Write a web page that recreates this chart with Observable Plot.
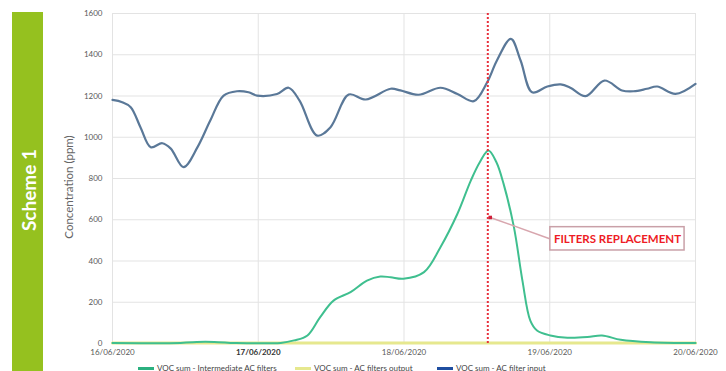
<!DOCTYPE html>
<html><head><meta charset="utf-8">
<script src="https://cdn.jsdelivr.net/npm/d3@7"></script>
<script src="https://cdn.jsdelivr.net/npm/@observablehq/plot@0.6"></script>
<style>
body{margin:0;background:#fff;font-family:Lato,"Open Sans",sans-serif;}
#wrap{position:relative;width:726px;height:371px;overflow:hidden;}
#band{position:absolute;left:12px;top:12px;width:31px;height:359px;background:#95c11f;}
#band span{position:absolute;left:50%;top:178px;transform:translate(-50%,-50%) rotate(-90deg);color:#fff;font-weight:bold;font-size:19px;white-space:nowrap;}
#ylab{position:absolute;left:68px;top:187px;transform:translate(-50%,-50%) rotate(-90deg);color:#666;font-size:11.5px;white-space:nowrap;}
#chart{position:absolute;left:0;top:0;}
.lg{position:absolute;top:364px;font-size:8px;color:#444;white-space:nowrap;line-height:8px;}
.lg i{display:inline-block;width:16px;height:3px;vertical-align:middle;margin-right:3px;}
</style></head>
<body>
<div id="wrap">
  <div id="band"><span>Scheme 1</span></div>
  <div id="ylab">Concentration (ppm)</div>
  <div id="chart"></div>
  <div id="legend"></div>
</div>
<script>
// ---- data (hours from 16/06/2020 00:00) ----
const inputHours = [0,1.6,3.0,4.6,6.3,8.2,9.6,11.7,14.0,16.1,18.3,20.5,22.4,23.8,27.1,29.0,30.8,33.7,35.9,38.9,41.7,45.8,47.4,50.4,54.0,56.8,59.5,61.7,63.3,65.6,67.2,69.1,71.6,73.8,75.4,77.9,81.0,83.9,85.8,88.0,89.7,92.7,96];
const inputValues = [1181,1170,1146,1049,952,971,945,855,952,1081,1202,1223,1218,1202,1210,1240,1178,1008,1049,1207,1183,1235,1227,1206,1240,1210,1175,1267,1372,1477,1372,1218,1246,1256,1240,1199,1275,1227,1223,1235,1246,1210,1259];

const interHours = [0,11.2,15.3,19.4,27.7,29.9,32.1,34.2,36.4,39.2,41.9,44.1,45.8,47.9,51.3,54.0,56.8,59.0,60.5,61.9,63.2,64.4,66.1,67.5,68.8,69.9,72.1,74.9,78.2,80.6,83.7,88.6,96];
const interValues = [2,3,8,3,3,15,39,128,208,249,305,325,321,314,346,467,629,790,880,936,880,774,564,305,111,63,39,28,31,39,18,6,2];

const outputHours = [0,24,48,72,96];
const outputValues = [3,3,3,3,3];

const dayHours = [0,24,48,72,96];
const dayLabels = ["16/06/2020","17/06/2020","18/06/2020","19/06/2020","20/06/2020"];
const yTicks = [0,200,400,600,800,1000,1200,1400,1600];

const seriesNames = ["VOC sum - Intermediate AC filters","VOC sum - AC filters output","VOC sum - AC filter input"];
const seriesColors = ["#3fbf8f","#e6e88e","#5a7898"];
const legendColors = ["#2bb07f","#e6e88e","#1f4ea0"];

const replacementHour = [61.8];
const noteText = ["FILTERS REPLACEMENT"];
const noteBoxHours = [72.1, 94.2];
const noteBoxValues = [451, 564];
const noteTextPos = [83.15, 507];
const noteDot = [62.2, 611];

// ---- build ----
const start = Date.UTC(2020,5,16);
const toDate = h => new Date(start + h*3600e3);
const mk = (hs, vs, s) => hs.map((h,i)=>({t:toDate(h), v:vs[i], s}));
const input = mk(inputHours, inputValues, seriesNames[2]);
const inter = mk(interHours, interValues, seriesNames[0]);
const output = mk(outputHours, outputValues, seriesNames[1]);
const days = dayHours.map(toDate);
const fmt = d => dayLabels[dayHours.indexOf((d - start)/3600e3)];

const chart = Plot.plot({
  width:726, height:371,
  marginLeft:112, marginRight:31, marginTop:13, marginBottom:28,
  x:{type:"utc", domain:[toDate(0), toDate(96)]},
  y:{domain:[0,1600]},
  style:{fontFamily:"Lato, sans-serif", fontSize:"8px", color:"#595959", background:"transparent"},
  marks:[
    Plot.gridY(yTicks,{stroke:"#e3e3e3", strokeOpacity:1}),
    Plot.gridX(days,{stroke:"#e3e3e3", strokeOpacity:1}),
    Plot.axisY(yTicks,{tickSize:0, tickPadding:10, label:null, fill:"#595959", tickFormat:d=>String(d)}),
    Plot.axisX(days.filter((d,i)=>i!==1),{tickSize:0, tickPadding:6, label:null, tickFormat:fmt, fill:"#595959"}),
    Plot.axisX([days[1]],{tickSize:0, tickPadding:6, label:null, tickFormat:fmt, fill:"#333", fontWeight:"bold"}),
    Plot.line(output,{x:"t", y:"v", stroke:seriesColors[1], strokeWidth:3}),
    Plot.line(inter,{x:"t", y:"v", stroke:seriesColors[0], strokeWidth:2, curve:"catmull-rom"}),
    Plot.line(input,{x:"t", y:"v", stroke:seriesColors[2], strokeWidth:2.2, curve:"catmull-rom"}),
    Plot.ruleX(replacementHour.map(toDate),{stroke:"#e8303c", strokeWidth:2, strokeDasharray:"2,2"}),
    Plot.link([0],{x1:()=>toDate(noteDot[0]), y1:()=>noteDot[1], x2:()=>toDate(noteBoxHours[0]), y2:()=>noteTextPos[1], stroke:"#d8a6ae", strokeWidth:1.5}),
    Plot.dot([0],{x:()=>toDate(noteDot[0]), y:()=>noteDot[1], r:2, fill:"#d0203a", symbol:"square"}),
    Plot.rect([0],{x1:()=>toDate(noteBoxHours[0]), x2:()=>toDate(noteBoxHours[1]), y1:()=>noteBoxValues[0], y2:()=>noteBoxValues[1], fill:"#fff", stroke:"#c9a0a8", strokeWidth:1.5}),
    Plot.text(noteText,{x:()=>toDate(noteTextPos[0]), y:()=>noteTextPos[1], text:d=>d, fill:"#ee1c25", fontSize:11.5, fontWeight:"bold"})
  ]
});
document.getElementById("chart").appendChild(chart);

const legendLeft = [138, 295, 437];
const lg = document.getElementById("legend");
seriesNames.forEach((n,i)=>{
  const d = document.createElement("div");
  d.className="lg"; d.style.left = legendLeft[i]+"px";
  d.innerHTML = `<i style="background:${legendColors[i]}"></i>${n}`;
  lg.appendChild(d);
});
</script>
</body></html>
